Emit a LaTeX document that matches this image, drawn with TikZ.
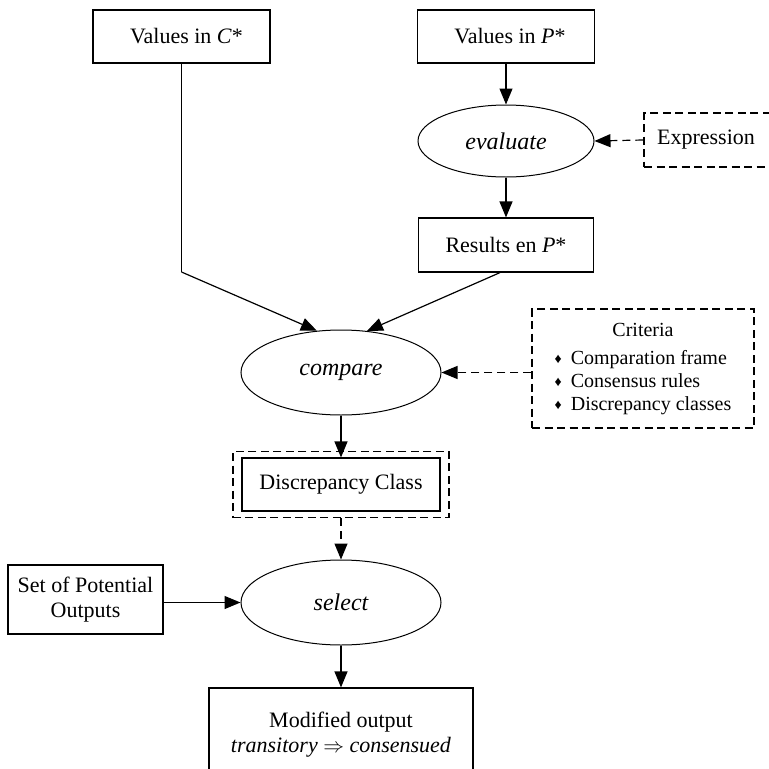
\documentclass[tikz,border=0pt]{standalone}
\usepackage{fontspec}
\setmainfont{Liberation Serif}
\usetikzlibrary{arrows.meta,shapes.geometric,fit}
\begin{document}
\begin{tikzpicture}[x=1pt,y=-1pt,
  every node/.style={font=\fontsize{22}{25}\selectfont},
  box/.style={draw,line width=1.2pt,inner sep=0pt,align=center},
  dbox/.style={box,dash pattern=on 8pt off 4.5pt},
  proc/.style={ellipse,draw,line width=1pt,inner sep=0pt,
    font=\fontsize{24}{28}\selectfont\itshape},
  flow/.style={line width=1.2pt,-{Triangle[length=16pt,width=13pt]}},
  dflow/.style={flow,dash pattern=on 8pt off 5pt}]
\useasboundingbox (0,0) rectangle (769,769);

% inputs
\node[box,minimum width=177,minimum height=53] (vc) at (181.5,36.5) {\hspace*{10pt}Values in \textit{C}*};
\node[box,minimum width=177,minimum height=53] (vp) at (506,36.5) {\hspace*{8pt}Values in \textit{P}*};

% evaluation branch
\node[proc,minimum width=176,minimum height=72] (ev) at (506,141) {evaluate};
\node[dbox,minimum width=130,minimum height=54] (ex) at (709,140) {\hspace*{-6pt}Expression};
\node[box,minimum width=175,minimum height=54] (res) at (506,245) {Results en \textit{P}*};

% comparison
\node[proc,minimum width=200,minimum height=85] (cmp) at (341,372.5) {compare};
\node[dbox,minimum width=222,minimum height=119,
  font=\fontsize{20}{23}\selectfont] (cr) at (643,368.5)
  {\begin{tabular}{@{}l@{}}
     \multicolumn{1}{c}{Criteria}\\[5pt]
     \raisebox{1pt}{\fontsize{14}{16}\selectfont ♦}\hspace{4pt} Comparation frame\\
     \raisebox{1pt}{\fontsize{14}{16}\selectfont ♦}\hspace{4pt} Consensus rules\\
     \raisebox{1pt}{\fontsize{14}{16}\selectfont ♦}\hspace{4pt} Discrepancy classes
   \end{tabular}};

% discrepancy class (double frame)
\node[box,line width=1.1pt,minimum width=198,minimum height=53] (dc) at (341,484.5) {Discrepancy Class};
\node[dbox,fit=(dc),inner xsep=8.5pt,inner ysep=6pt] (dco) {};

% selection
\node[proc,minimum width=200,minimum height=85] (sel) at (341,602.5) {select};
\node[box,minimum width=155,minimum height=69] (spo) at (85.5,599.5) {Set of Potential\\Outputs};
\node[box,minimum width=264,minimum height=94] (mo) at (341,735)
  {Modified output\\\textit{transitory} $\Rightarrow$\ \textit{consensued}};

% connectors
\coordinate (vcbend) at (181.5,272);
\draw[line width=1.2pt] (vc.south) -- (vcbend);
\draw[flow] (vcbend) -- (cmp.120);
\draw[flow] (vp.south) -- (ev.north);
\draw[dflow] (ex.west) -- (ev.east);
\draw[flow] (ev.south) -- (res.north);
\draw[flow] ([xshift=-6pt]res.south) -- (cmp.58);
\draw[dflow] (cmp.east -| cr.west) -- (cmp.east);
\draw[flow] (cmp.south) -- (dc.north);
\draw[dflow] (dco.south) -- (sel.north);
\draw[flow] (spo.east |- sel.west) -- (sel.west);
\draw[flow] (sel.south) -- (mo.north);
\end{tikzpicture}
\end{document}
